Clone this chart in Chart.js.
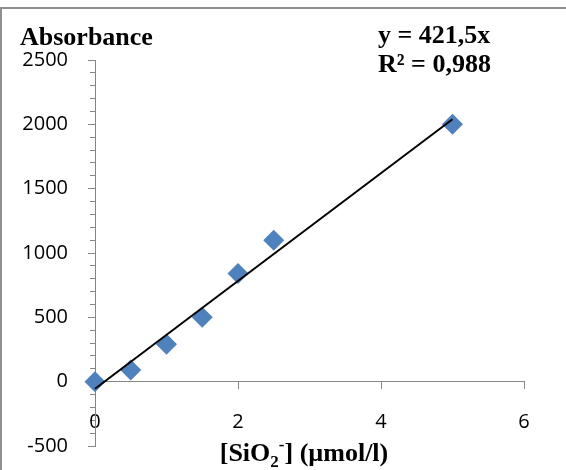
<!DOCTYPE html>
<html><head><meta charset="utf-8">
<script src="https://cdn.jsdelivr.net/npm/chart.js@4"></script>
<style>html,body{margin:0;padding:0;background:#fff}canvas{display:block}</style>
</head><body>
<canvas id="c" width="566" height="470"></canvas>
<script>
// ---- data ----
const concentrations = [0, 0.5, 1, 1.5, 2, 2.5, 5];
const absorbances = [0, 90, 290, 500, 840, 1100, 2000];
const trendX = [0, 5];
const trendY = [-55, 2040];
const xRange = [0, 6];
const xStep = 2;
const yRange = [-500, 2500];
const yMajorStep = 500;
const yMinorStep = 100;
const yTitle = 'Absorbance';
const equationLines = ['y = 421,5x', 'R² = 0,988'];
const xTitleParts = ['[SiO', '2', '-', '] (µmol/l)'];

const axisGray = '#868686';
const tickFont = {family: '"Open Sans"', size: 20};
const serifBold = '"Liberation Serif", "Times New Roman", serif';

const decor = {
  id: 'decor',
  beforeDraw(chart) {
    const ctx = chart.ctx;
    ctx.save();
    ctx.fillStyle = '#fff';
    ctx.fillRect(0, 0, chart.width, chart.height);
    ctx.restore();
  },
  afterDraw(chart) {
    const ctx = chart.ctx;
    ctx.save();
    ctx.strokeStyle = '#8f8f8f';
    ctx.lineWidth = 2;
    ctx.beginPath();
    ctx.moveTo(1, chart.height + 5);
    ctx.lineTo(1, 8);
    ctx.lineTo(chart.width + 5, 8);
    ctx.stroke();

    ctx.fillStyle = '#000';
    ctx.textBaseline = 'alphabetic';
    ctx.textAlign = 'left';
    ctx.font = 'bold 26px ' + serifBold;
    ctx.fillText(yTitle, 20, 45);
    ctx.fillText(equationLines[0], 378, 43);
    ctx.fillText(equationLines[1], 378, 72);

    // x axis title with subscript / superscript
    const big = 'bold 26px ' + serifBold;
    const small = 'bold 17px ' + serifBold;
    const fonts = [big, small, small, big];
    const offs = [0, 6, -11, 0];
    const widths = xTitleParts.map((t, i) => { ctx.font = fonts[i]; return ctx.measureText(t).width; });
    const total = widths.reduce((a, b) => a + b, 0);
    let x = 304 - total / 2;
    const base = 461;
    xTitleParts.forEach((t, i) => {
      ctx.font = fonts[i];
      ctx.fillText(t, x, base + offs[i]);
      x += widths[i];
    });
    ctx.restore();
  }
};

new Chart(document.getElementById('c'), {
  data: {
    datasets: [
      {
        type: 'line',
        data: trendX.map((v, i) => ({x: v, y: trendY[i]})),
        borderColor: '#000',
        borderWidth: 2,
        pointRadius: 0,
        fill: false,
        order: 0,
        clip: false
      },
      {
        type: 'scatter',
        data: concentrations.map((v, i) => ({x: v, y: absorbances[i]})),
        pointStyle: 'rectRot',
        pointRadius: 10.5,
        backgroundColor: '#4F81BD',
        borderColor: '#4F81BD',
        borderWidth: 0,
        order: 1,
        clip: false
      }
    ]
  },
  options: {
    responsive: false,
    animation: false,
    events: [],
    layout: {padding: {left: 0, right: 42, top: 60, bottom: 24}},
    plugins: {legend: {display: false}, tooltip: {enabled: false}, title: {display: false}},
    scales: {
      x: {
        type: 'linear',
        position: {y: 0},
        min: xRange[0], max: xRange[1],
        ticks: {stepSize: xStep, color: '#000', font: tickFont, padding: 22, maxRotation: 0,
                callback: v => String(v)},
        grid: {drawOnChartArea: false, drawTicks: true, tickLength: 7, color: axisGray},
        border: {display: true, color: axisGray, width: 1},
        afterFit(s) { s.paddingLeft = 0; s.paddingRight = 0; }
      },
      y: {
        type: 'linear',
        position: 'left',
        min: yRange[0], max: yRange[1],
        ticks: {stepSize: yMajorStep, color: '#000', font: tickFont, padding: 20,
                callback: v => String(v)},
        grid: {drawOnChartArea: false, drawTicks: true, tickLength: 7, color: axisGray},
        border: {display: true, color: axisGray, width: 1},
        afterFit(s) { s.width = 95; s.paddingTop = 0; s.paddingBottom = 0; }
      },
      yMinor: {
        type: 'linear',
        position: {x: 0},
        min: yRange[0], max: yRange[1],
        ticks: {stepSize: yMinorStep, autoSkip: false, callback: () => '', padding: 0},
        grid: {drawOnChartArea: false, drawTicks: true, tickLength: 5, color: axisGray},
        border: {display: false},
        afterFit(s) { s.paddingTop = 0; s.paddingBottom = 0; }
      }
    }
  },
  plugins: [decor]
});
</script>
</body></html>
